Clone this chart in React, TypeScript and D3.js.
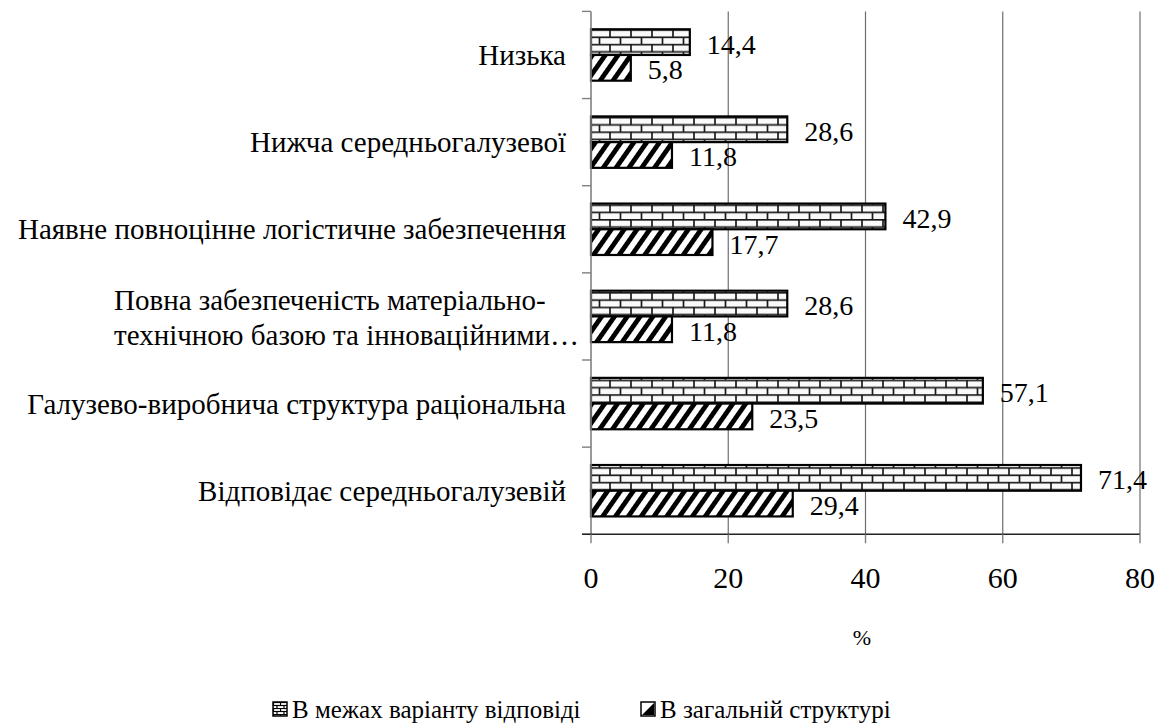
import React from 'react'
import * as d3 from 'd3'

const categories = [
  'Низька',
  'Нижча середньогалузевої',
  'Наявне повноцінне логістичне забезпечення',
  'Повна забезпеченість матеріально-технічною базою та інноваційними…',
  'Галузево-виробнича структура раціональна',
  'Відповідає середньогалузевій',
]
// how the category labels are wrapped on the axis
const categoryLines = [
  ['Низька'],
  ['Нижча середньогалузевої'],
  ['Наявне повноцінне логістичне забезпечення'],
  ['Повна забезпеченість матеріально-', 'технічною базою та інноваційними…'],
  ['Галузево-виробнича структура раціональна'],
  ['Відповідає середньогалузевій'],
]
const seriesNames = ['В межах варіанту відповіді', 'В загальній структурі']
const withinAnswer = [14.4, 28.6, 42.9, 28.6, 57.1, 71.4]
const overall = [5.8, 11.8, 17.7, 11.8, 23.5, 29.4]
const xTicks = [0, 20, 40, 60, 80]

const serif = { fontFamily: '"Liberation Serif"' }
const fmt = d3.formatLocale({ decimal: ',', thousands: ' ', grouping: [3], currency: ['', ''] }).format('.1f')

export default function App() {
  const width = 1162
  const height = 724
  const left = 591
  const right = 1140
  const top = 11.4
  const bottom = 534.3

  const x = d3.scaleLinear().domain([0, 80]).range([left, right])
  const y = d3
    .scaleBand<string>()
    .domain(categories)
    .range([top, bottom])
    .paddingInner(0.41)
    .paddingOuter(0.205)
  const sub = d3.scaleBand<number>().domain([0, 1]).range([0, y.bandwidth()])
  const step = y.step()
  const boundaries = d3.range(categories.length + 1).map((i) => top + i * step)

  const series = [withinAnswer, overall]
  const fills = ['url(#brick)', 'url(#hatch)']

  return (
    <svg width={width} height={height} style={{ position: 'absolute', left: 0, top: 0, background: '#fff' }}>
      <defs>
        <pattern id="brick" patternUnits="userSpaceOnUse" width={21} height={14.6}>
          <rect width={21} height={14.6} fill="#fafafa" />
          <line x1={0} x2={21} y1={0.8} y2={0.8} stroke="#1a1a1a" strokeWidth={1.7} />
          <line x1={0} x2={21} y1={8.1} y2={8.1} stroke="#1a1a1a" strokeWidth={1.7} />
          <line x1={1} x2={1} y1={0} y2={8.1} stroke="#1a1a1a" strokeWidth={1.7} />
          <line x1={11.5} x2={11.5} y1={8.1} y2={14.6} stroke="#1a1a1a" strokeWidth={1.7} />
        </pattern>
        <pattern
          id="hatch"
          patternUnits="userSpaceOnUse"
          width={10.5}
          height={10.5}
          patternTransform="rotate(35)"
        >
          <rect width={10.5} height={10.5} fill="#fff" />
          <rect width={4.8} height={10.5} fill="#000" />
        </pattern>
        <pattern id="brickIcon" patternUnits="userSpaceOnUse" width={7} height={6}>
          <rect width={7} height={6} fill="#fff" />
          <line x1={0} x2={7} y1={0.5} y2={0.5} stroke="#000" strokeWidth={1.2} />
          <line x1={0} x2={7} y1={3.5} y2={3.5} stroke="#000" strokeWidth={1.2} />
          <line x1={0.5} x2={0.5} y1={0} y2={3.5} stroke="#000" strokeWidth={1.2} />
          <line x1={4} x2={4} y1={3.5} y2={6} stroke="#000" strokeWidth={1.2} />
        </pattern>
      </defs>

      {/* gridlines */}
      {xTicks
        .filter((t) => t > 0)
        .map((t) => (
          <line key={t} x1={x(t)} x2={x(t)} y1={top} y2={bottom} stroke="#6e6e6e" strokeWidth={1.2} />
        ))}

      {/* bars */}
      {series.map((vals, s) =>
        vals.map((v, i) => (
          <rect
            key={`${s}-${i}`}
            x={x(0)}
            y={(y(categories[i]) ?? 0) + (sub(s) ?? 0)}
            width={x(v) - x(0)}
            height={sub.bandwidth()}
            fill={fills[s]}
            stroke="#000"
            strokeWidth={2.2}
          />
        )),
      )}

      {/* axes */}
      <line x1={left} x2={left} y1={top} y2={bottom} stroke="#808080" strokeWidth={1.6} />
      {boundaries.map((b, i) => (
        <line key={i} x1={left - 9} x2={left} y1={b} y2={b} stroke="#808080" strokeWidth={1.4} />
      ))}
      <line x1={left - 9} x2={right} y1={bottom} y2={bottom} stroke="#222" strokeWidth={1.4} />
      {xTicks.map((t) => (
        <line key={t} x1={x(t)} x2={x(t)} y1={bottom} y2={bottom + 9} stroke="#808080" strokeWidth={1.4} />
      ))}
      {xTicks.map((t) => (
        <text key={t} x={x(t)} y={577} fontSize={30} textAnchor="middle" dominantBaseline="central" style={serif}>
          {t}
        </text>
      ))}
      <text x={862} y={637} fontSize={22} textAnchor="middle" dominantBaseline="central" style={serif}>
        %
      </text>

      {/* category labels */}
      {categoryLines.map((lines, i) => {
        const cy = (y(categories[i]) ?? 0) + y.bandwidth() / 2
        if (lines.length === 1)
          return (
            <text key={i} x={566} y={cy} fontSize={29} textAnchor="end" dominantBaseline="central" style={serif}>
              {lines[0]}
            </text>
          )
        return (
          <text key={i} x={114} fontSize={29} textAnchor="start" dominantBaseline="central" style={serif}>
            {lines.map((l, j) => (
              <tspan key={j} x={114} y={cy + 1 + (j - (lines.length - 1) / 2) * 35}>
                {l}
              </tspan>
            ))}
          </text>
        )
      })}

      {/* data labels */}
      {series.map((vals, s) =>
        vals.map((v, i) => (
          <text
            key={`${s}-${i}`}
            x={x(v) + 17}
            y={(y(categories[i]) ?? 0) + (sub(s) ?? 0) + sub.bandwidth() / 2 + 2}
            fontSize={28}
            dominantBaseline="central"
            style={serif}
          >
            {fmt(v)}
          </text>
        )),
      )}

      {/* legend */}
      <g transform="translate(273,702)">
        <rect width={14} height={14} fill="url(#brickIcon)" stroke="#000" strokeWidth={1.5} />
        <text x={19} y={7} fontSize={25} dominantBaseline="central" style={serif}>
          {seriesNames[0]}
        </text>
      </g>
      <g transform="translate(641,702)">
        <rect width={14} height={14} fill="#fff" stroke="#000" strokeWidth={1.5} />
        <path d="M1,13 L13,1 L13,13 Z" fill="#000" />
        <text x={19} y={7} fontSize={25} dominantBaseline="central" style={serif}>
          {seriesNames[1]}
        </text>
      </g>
    </svg>
  )
}
